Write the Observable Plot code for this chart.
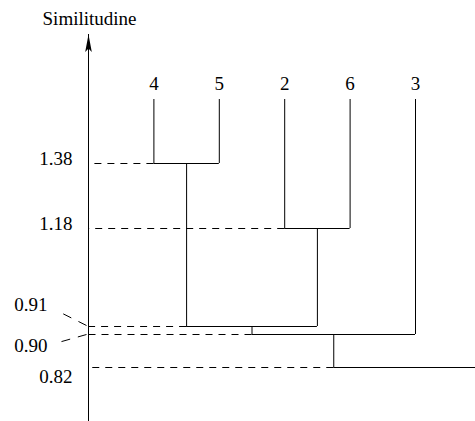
<!DOCTYPE html>
<html>
<head>
<meta charset="utf-8">
<script src="https://cdn.jsdelivr.net/npm/d3@7"></script>
<script src="https://cdn.jsdelivr.net/npm/@observablehq/plot@0.6"></script>
<style>
  html, body { margin: 0; padding: 0; background: #fff; overflow: hidden; }
  #chart svg { display: block; font-family: "Liberation Serif", "Times New Roman", serif !important; }
  #chart svg text { font-family: "Liberation Serif", "Times New Roman", serif !important; }
</style>
</head>
<body>
<div id="chart"></div>
<script>
// ---- data ----
const axisLabel = "Similitudine";
const leaves = ["4", "5", "2", "6", "3", "1"];          // leaf "1" lies beyond the right edge (not shown)
const mergeIds = ["A", "B", "C", "D", "E"];
const mergeLeft = ["4", "2", "A", "C", "D"];
const mergeRight = ["5", "6", "B", "3", "1"];
const mergeHeights = [1.38, 1.18, 0.91, 0.90, 0.82];
const tickValues = [1.38, 1.18, 0.91, 0.90, 0.82];
const tickLabels = ["1.38", "1.18", "0.91", "0.90", "0.82"];
const leafLevel = 1.58;   // display level of the leaf tops
const AXIS_X = -1;        // the vertical axis sits one leaf-step left of the first leaf

// ---- derived structure ----
const xOf = new Map(leaves.map((d, i) => [d, i]));
const hOf = new Map(leaves.map(d => [d, leafLevel]));
const merges = mergeIds.map((id, i) => ({id, left: mergeLeft[i], right: mergeRight[i], h: mergeHeights[i]}));
merges.forEach(m => {
  xOf.set(m.id, (xOf.get(m.left) + xOf.get(m.right)) / 2);
  hOf.set(m.id, m.h);
});
const horiz = merges.map(m => ({x1: xOf.get(m.left), x2: xOf.get(m.right), y: m.h}));
const verts = merges.flatMap(m => [m.left, m.right].map(c => ({x: xOf.get(c), y1: hOf.get(c), y2: m.h})));
const guides = merges.map(m => ({x1: xOf.get(m.left), y: m.h}));
const ticks = tickValues.map((v, i) => ({v, label: tickLabels[i]}));
const leafData = leaves.map(d => ({name: d, x: xOf.get(d)})).filter(d => d.x <= 4);

// the drawing is schematic: heights are placed on a piecewise (non-uniform) vertical scale
const yWarp = d3.scaleLinear()
  .domain([0.82, 0.90, 0.91, 1.18, 1.38, 1.58])
  .range([367, 334, 326, 228, 163, 99]);

// custom symbols
const arrowHead = {draw(ctx) { ctx.moveTo(0, 0); ctx.lineTo(3.3, 17.5); ctx.lineTo(0, 14); ctx.lineTo(-3.3, 17.5); ctx.closePath(); }};
const leaderUp = {draw(ctx) { ctx.moveTo(-2, -1); ctx.lineTo(-29, -14.5); }};
const leaderDown = {draw(ctx) { ctx.moveTo(-2, 0); ctx.lineTo(-32, 8.5); }};

const font = "Liberation Serif";

const plot = Plot.plot({
  width: 475,
  height: 421,
  marginTop: 34,
  marginBottom: 0,
  marginLeft: 0,
  marginRight: 0,
  x: {domain: [-1, 4], range: [88, 415], axis: null},
  y: {transform: yWarp, domain: [0, 421], range: [0, 421], axis: null},
  style: {fontFamily: font, fontSize: "19px", background: "white", color: "black"},
  marks: [
    // vertical axis with arrow
    Plot.ruleX([AXIS_X], {x: d => d, stroke: "black", strokeWidth: 1}),
    Plot.dot([AXIS_X], {x: d => d, frameAnchor: "top", symbol: arrowHead, fill: "black", stroke: "none"}),
    Plot.text([axisLabel], {x: () => AXIS_X, frameAnchor: "top", text: d => d, lineAnchor: "bottom", dy: -10, dx: 1, fontSize: 19, fontFamily: font, fill: "black"}),
    // dashed guide lines from the merge to the axis
    Plot.ruleY(guides, {y: "y", x1: "x1", x2: () => AXIS_X, stroke: "black", strokeWidth: 1, strokeDasharray: "7,6"}),
    // dendrogram
    Plot.ruleY(horiz, {y: "y", x1: "x1", x2: "x2", stroke: "black", strokeWidth: 1}),
    Plot.ruleX(verts, {x: "x", y1: "y1", y2: "y2", stroke: "black", strokeWidth: 1}),
    // leaf labels
    Plot.text(leafData, {x: "x", y: () => leafLevel, text: "name", lineAnchor: "bottom", dy: -10, fontSize: 19, fontFamily: font, fill: "black"}),
    // tick labels
    Plot.text(ticks.filter(d => d.v >= 1), {x: () => AXIS_X, y: "v", text: "label", textAnchor: "end", lineAnchor: "bottom", dx: -16, dy: 1, fontSize: 19, fontFamily: font, fill: "black"}),
    Plot.text(ticks.filter(d => d.v === 0.82), {x: () => AXIS_X, y: "v", text: "label", textAnchor: "end", lineAnchor: "bottom", dx: -16, dy: 15, fontSize: 19, fontFamily: font, fill: "black"}),
    Plot.text(ticks.filter(d => d.v === 0.91), {x: () => AXIS_X, y: "v", text: "label", textAnchor: "end", lineAnchor: "bottom", dx: -41, dy: -16, fontSize: 19, fontFamily: font, fill: "black"}),
    Plot.text(ticks.filter(d => d.v === 0.90), {x: () => AXIS_X, y: "v", text: "label", textAnchor: "end", lineAnchor: "bottom", dx: -41, dy: 17, fontSize: 19, fontFamily: font, fill: "black"}),
    // leader lines for the two close labels
    Plot.dot(ticks.filter(d => d.v === 0.91), {x: () => AXIS_X, y: "v", symbol: leaderUp, fill: "none", stroke: "black", strokeWidth: 1, strokeDasharray: "9,8"}),
    Plot.dot(ticks.filter(d => d.v === 0.90), {x: () => AXIS_X, y: "v", symbol: leaderDown, fill: "none", stroke: "black", strokeWidth: 1, strokeDasharray: "9,8"})
  ]
});
document.getElementById("chart").appendChild(plot);
</script>
</body>
</html>
